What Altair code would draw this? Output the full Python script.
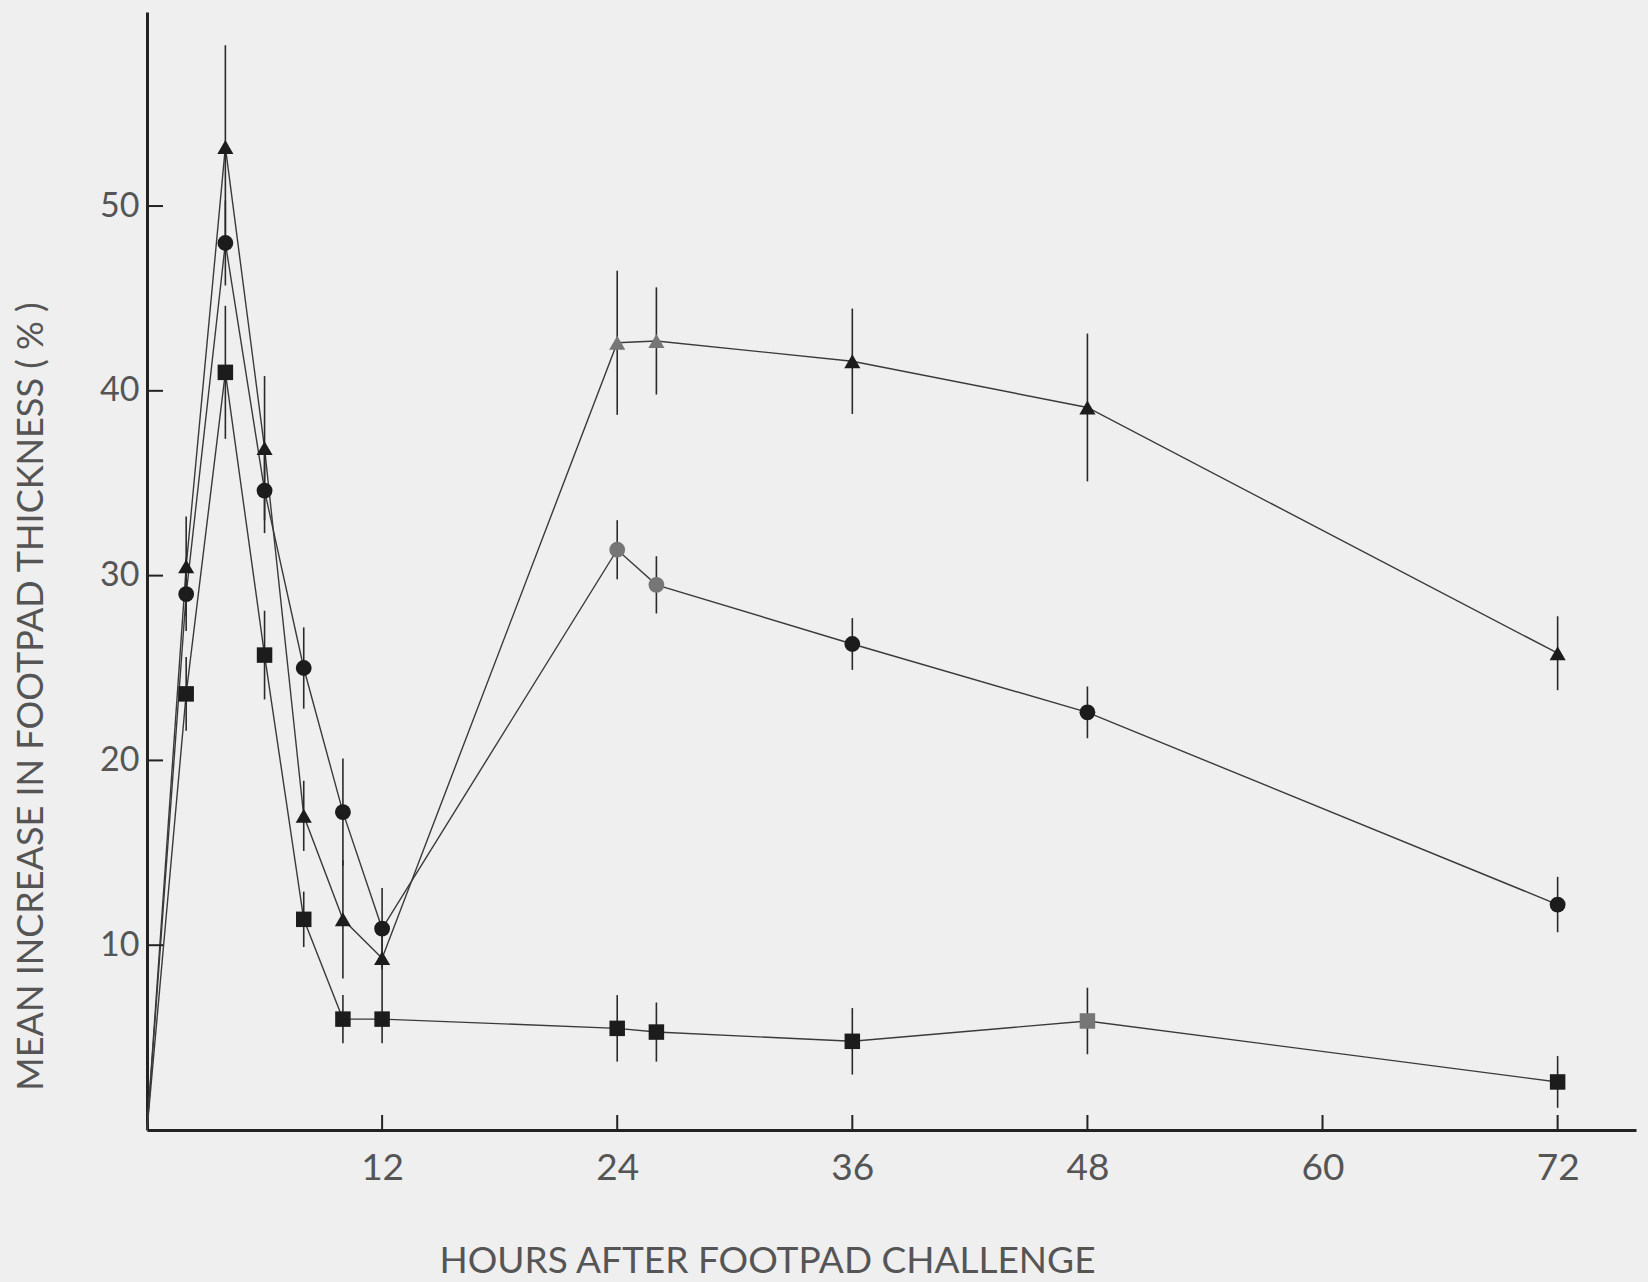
import altair as alt
import pandas as pd

# Hours after footpad challenge at which each group was measured
hours = [0, 2, 4, 6, 8, 10, 12, 24, 26, 36, 48, 72]

# Mean increase in footpad thickness (%) and half-length of the error bar
tri_mean = [0, 30.5, 53.2, 36.9, 17.0, 11.4, 9.3, 42.6, 42.7, 41.6, 39.1, 25.8]
tri_err = [0, 2.7, 5.5, 3.9, 1.9, 3.2, 2.0, 3.9, 2.9, 2.85, 4.0, 2.0]
circ_mean = [0, 29.0, 48.0, 34.6, 25.0, 17.2, 10.9, 31.4, 29.5, 26.3, 22.6, 12.2]
circ_err = [0, 2.0, 2.3, 2.3, 2.2, 2.9, 2.2, 1.6, 1.55, 1.4, 1.4, 1.5]
sq_mean = [0, 23.6, 41.0, 25.7, 11.4, 6.0, 6.0, 5.5, 5.3, 4.8, 5.9, 2.6]
sq_err = [0, 2.0, 3.6, 2.4, 1.5, 1.3, 1.3, 1.8, 1.6, 1.8, 1.8, 1.4]

x_ticks = [12, 24, 36, 48, 60, 72]
y_ticks = [10, 20, 30, 40, 50]

# Markers that printed in a lighter tone
light_marks = {("triangle", 24), ("triangle", 26), ("circle", 24), ("circle", 26), ("square", 48)}

rows = []
for name, means, errs in [("triangle", tri_mean, tri_err),
                          ("circle", circ_mean, circ_err),
                          ("square", sq_mean, sq_err)]:
    for h, m, e in zip(hours, means, errs):
        rows.append({
            "series": name, "hour": h, "mean": m,
            "lo": m - e, "hi": m + e,
            "tone": "light" if (name, h) in light_marks else "dark",
        })
df = pd.DataFrame(rows)
pts = df[df["hour"] > 0]

W, H = 1489, 1118
FONT = "Lato"
TXT = "#555555"
INK = "#232323"

xscale = alt.Scale(domain=[0, 76], nice=False, zero=False)
yscale = alt.Scale(domain=[0, 60.5], nice=False)

x_axis = alt.Axis(
    values=x_ticks, tickSize=0, grid=False, domain=True,
    domainColor=INK, domainWidth=3,
    labelFont=FONT, labelFontSize=37, labelColor=TXT, labelPadding=20,
    title="HOURS AFTER FOOTPAD CHALLENGE", titleFont=FONT, titleFontSize=37,
    titleFontWeight="normal", titleColor=TXT, titleX=620, titleY=142,
    titleAnchor="middle", titleAlign="center", titleBaseline="alphabetic",
)
y_axis = alt.Axis(
    values=y_ticks, tickSize=0, grid=False, domain=True,
    domainColor=INK, domainWidth=3,
    labelFont=FONT, labelFontSize=34, labelColor=TXT, labelPadding=8,
    title="MEAN INCREASE IN FOOTPAD THICKNESS ( % )", titleFont=FONT,
    titleFontSize=36, titleFontWeight="normal", titleColor=TXT,
    titleAngle=270, titleX=-116, titleY=684, titleAlign="center",
    titleBaseline="middle",
)

base = alt.Chart(df)

lines = base.mark_line(color="#3a3a3a", strokeWidth=1.4).encode(
    x=alt.X("hour:Q", scale=xscale, axis=x_axis),
    y=alt.Y("mean:Q", scale=yscale, axis=y_axis),
    detail="series:N",
    order="hour:Q",
)

bars = alt.Chart(pts).mark_rule(color="#2a2a2a", strokeWidth=1.6).encode(
    x=alt.X("hour:Q", scale=xscale),
    y=alt.Y("lo:Q", scale=yscale),
    y2="hi:Q",
)

marks = alt.Chart(pts).mark_point(filled=True, opacity=1, strokeWidth=0).encode(
    x=alt.X("hour:Q", scale=xscale),
    y=alt.Y("mean:Q", scale=yscale),
    shape=alt.Shape("series:N", scale=alt.Scale(
        domain=["triangle", "circle", "square"],
        range=["triangle-up", "circle", "square"]), legend=None),
    size=alt.Size("series:N", scale=alt.Scale(
        domain=["triangle", "circle", "square"], range=[260, 240, 230]), legend=None),
    color=alt.Color("tone:N", scale=alt.Scale(
        domain=["dark", "light"], range=["#1c1c1c", "#767676"]), legend=None),
)

# Inward-pointing tick marks on both axes
xtick_df = pd.DataFrame({"t": x_ticks})
ytick_df = pd.DataFrame({"t": y_ticks})
xticks = alt.Chart(xtick_df).mark_rule(color=INK, strokeWidth=2).encode(
    x=alt.X("t:Q", scale=xscale), y=alt.value(H), y2=alt.value(H - 15),
)
yticks = alt.Chart(ytick_df).mark_rule(color=INK, strokeWidth=2).encode(
    y=alt.Y("t:Q", scale=yscale), x=alt.value(0), x2=alt.value(16),
)

chart = alt.layer(lines, bars, xticks, yticks, marks).properties(
    width=W, height=H,
    autosize=alt.AutoSizeParams(type="none"),
    padding={"left": 147, "top": 12, "right": 12, "bottom": 152},
    background="#efefef",
).configure_view(stroke=None)

chart.save("out.html", embed_options={"renderer": "svg", "actions": False})
